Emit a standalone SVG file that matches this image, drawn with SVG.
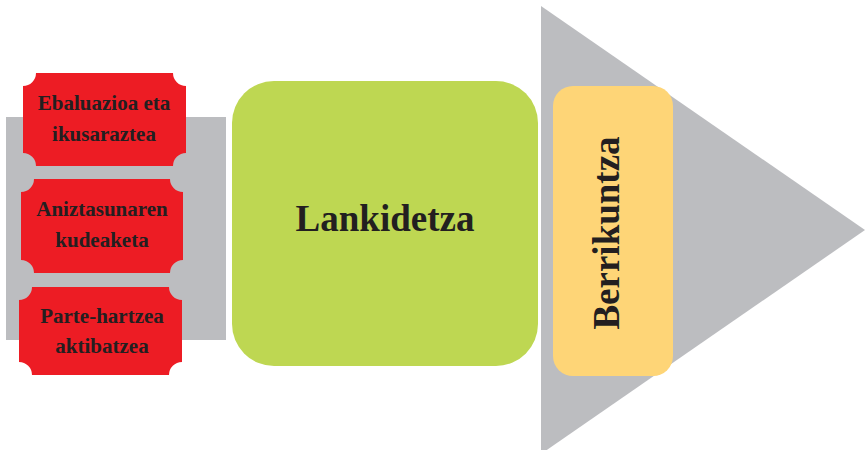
<svg xmlns="http://www.w3.org/2000/svg" width="865" height="450" viewBox="0 0 865 450">
<style>
.t{font-family:"Liberation Serif","Times New Roman",serif;font-weight:bold;fill:#231F20;text-anchor:middle}
.s{font-size:21px}
.b{font-size:37px}
.red{fill:#ED1C24}
.gray{fill:#BCBDC0}
</style>
<rect width="865" height="450" fill="#fff"/>
<g id="background">
<rect class="gray" x="6" y="117" width="220" height="223"/>
<polygon class="gray" points="541,6 865,230 541,454"/>
</g>
<g id="connectors"></g>
<g id="node-ebaluazioa">
<path class="red" d="M36,73 L173,73 A13,13 0 0 0 186,86 L186,153 A13,13 0 0 0 173,166 L36,166 A13,13 0 0 0 23,153 L23,86 A13,13 0 0 0 36,73 Z"/>
<text class="t s" x="104" y="110">Ebaluazioa eta</text>
<text class="t s" x="104" y="141">ikusaraztea</text>
</g>
<g id="node-aniztasuna">
<path class="red" d="M34,179 L170,179 A13,13 0 0 0 183,192 L183,260 A13,13 0 0 0 170,273 L34,273 A13,13 0 0 0 21,260 L21,192 A13,13 0 0 0 34,179 Z"/>
<text class="t s" x="102" y="216">Aniztasunaren</text>
<text class="t s" x="102" y="247">kudeaketa</text>
</g>
<g id="node-partehartzea">
<path class="red" d="M32,287 L169,287 A13,13 0 0 0 182,300 L182,362 A13,13 0 0 0 169,375 L32,375 A13,13 0 0 0 19,362 L19,300 A13,13 0 0 0 32,287 Z"/>
<text class="t s" x="102" y="323">Parte-hartzea</text>
<text class="t s" x="102" y="353">aktibatzea</text>
</g>
<g id="node-lankidetza">
<rect x="232" y="81" width="306" height="285" rx="42" ry="42" fill="#BED752"/>
<text class="t b" x="385" y="231">Lankidetza</text>
</g>
<g id="node-berrikuntza">
<rect x="553" y="86" width="120" height="290" rx="20" ry="20" fill="#FED577"/>
<text class="t b" transform="translate(619,233) rotate(-90)" x="0" y="0">Berrikuntza</text>
</g>
</svg>
